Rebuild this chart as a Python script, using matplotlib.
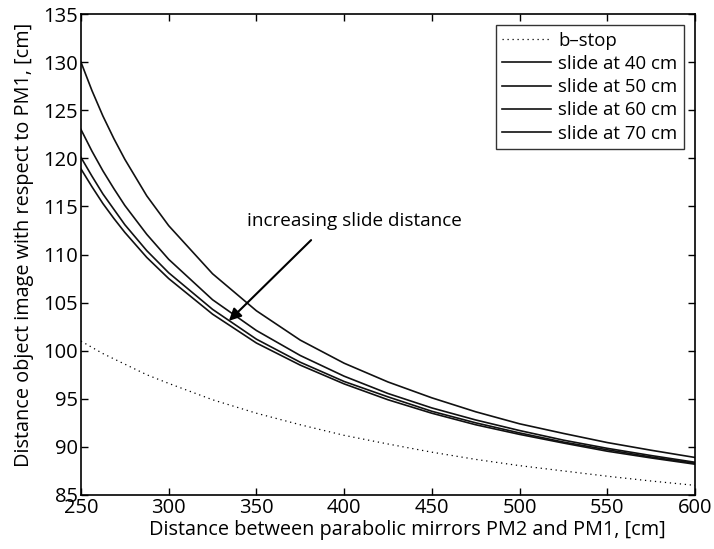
import numpy as np
import matplotlib
matplotlib.use("Agg")
import matplotlib.pyplot as plt

plt.rcParams['font.family'] = ['Open Sans', 'DejaVu Sans']

# Distance between PM2 and PM1 [cm]
x_cm = [250, 256.25, 262.5, 268.75, 275, 287.5, 300, 325, 350, 375, 400, 425, 450, 475, 500, 525, 550, 575, 600]

# Image distance with respect to PM1 [cm]
b_stop = [101.0, 100.35, 99.7, 99.15, 98.6, 97.5, 96.6, 94.9, 93.5, 92.3, 91.2, 90.3, 89.45, 88.7, 88.05, 87.5, 86.95, 86.45, 86.0]
slide_40 = [130.0, 127.05, 124.4, 122.05, 119.9, 116.1, 113.0, 108.0, 104.15, 101.1, 98.7, 96.75, 95.1, 93.65, 92.4, 91.4, 90.45, 89.65, 88.9]
slide_50 = [123.0, 120.75, 118.7, 116.85, 115.1, 112.1, 109.5, 105.3, 102.1, 99.5, 97.35, 95.55, 94.05, 92.8, 91.7, 90.7, 89.85, 89.1, 88.4]
slide_60 = [120.1, 118.15, 116.3, 114.7, 113.1, 110.4, 108.1, 104.3, 101.2, 98.8, 96.8, 95.2, 93.7, 92.5, 91.45, 90.5, 89.7, 88.95, 88.3]
slide_70 = [118.9, 117.05, 115.3, 113.75, 112.3, 109.7, 107.5, 103.8, 100.8, 98.5, 96.55, 94.9, 93.5, 92.3, 91.3, 90.4, 89.55, 88.85, 88.2]

slides = [slide_40, slide_50, slide_60, slide_70]
slide_labels = ["slide at 40 cm", "slide at 50 cm", "slide at 60 cm", "slide at 70 cm"]

fig = plt.figure(figsize=(7.14, 5.49), dpi=100)
ax = fig.add_axes([0.1134, 0.0984, 0.86, 0.876])

ax.plot(x_cm, b_stop, color="black", linestyle=(0, (1, 3)), linewidth=0.9, label="b\u2013stop")
for y, lab in zip(slides, slide_labels):
    ax.plot(x_cm, y, color="#111111", linewidth=1.2, label=lab)

ax.set_xlim(250, 600)
ax.set_ylim(85, 135)
ax.set_xticks(np.arange(250, 601, 50))
ax.set_yticks(np.arange(85, 136, 5))
ax.tick_params(direction="in", top=True, right=True, labelsize=14.5, length=5, width=1)
ax.tick_params(axis="x", pad=2)
ax.tick_params(axis="y", pad=2)
for s in ax.spines.values():
    s.set_linewidth(1.2)

ax.set_xlabel("Distance between parabolic mirrors PM2 and PM1, [cm]", fontsize=14.3, va="top")
ax.set_ylabel("Distance object image with respect to PM1, [cm]", fontsize=14.3)
ax.xaxis.set_label_coords(0.532, -0.052)
ax.yaxis.set_label_coords(-0.076, 0.52)

ax.annotate("increasing slide distance", xy=(333.2, 102.9), xytext=(344.5, 113.5),
            fontsize=13.6, va="center", ha="left")
ax.annotate("", xy=(333.2, 102.9), xytext=(382.3, 111.7),
            arrowprops=dict(arrowstyle="-|>", color="black", lw=1.5, mutation_scale=18))

leg = ax.legend(loc="upper right", fontsize=13.4, frameon=True, fancybox=False,
                edgecolor="black", handlelength=2.6, handletextpad=0.4,
                labelspacing=0.28, borderpad=0.35, borderaxespad=0.6)
leg.get_frame().set_linewidth(1.0)

fig.savefig("out.png", dpi=100)
